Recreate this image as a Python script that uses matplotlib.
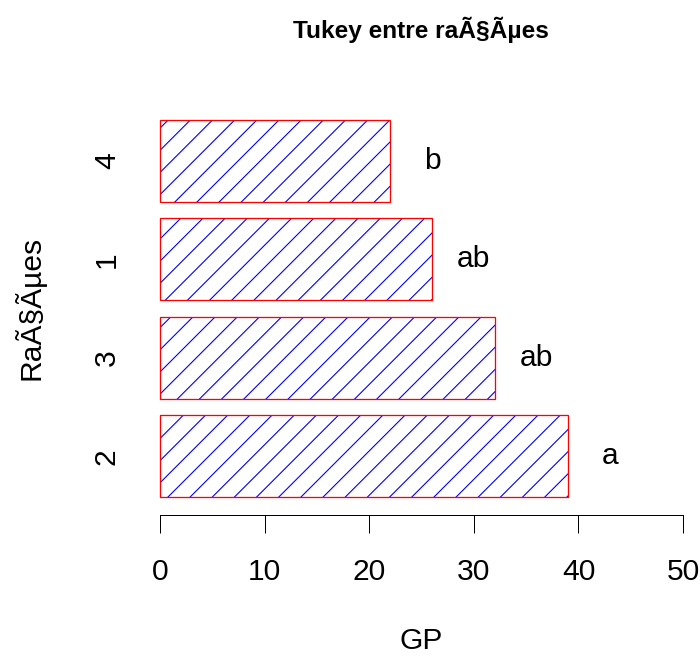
import matplotlib
matplotlib.use("Agg")
import matplotlib.pyplot as plt

# data (bottom to top, as drawn)
racoes = ["2", "3", "1", "4"]
gp = [39, 32, 26, 22]
letras = ["a", "ab", "ab", "b"]

DPI = 400 / 3
W, H = 700, 657
plt.rcParams["font.family"] = ["Liberation Sans", "DejaVu Sans"]
plt.rcParams["hatch.linewidth"] = 0.6

def pt(px):
    return px * 72 / DPI

fig = plt.figure(figsize=(W / DPI, H / DPI), dpi=DPI)
ax = fig.add_axes([139 / W, 1 - 515 / H, 565 / W, 410 / H])

pos = [0.7 + 1.2 * i for i in range(len(gp))]
ax.barh(pos, gp, height=1.0, color="none", edgecolor="blue", hatch="//", linewidth=0)
ax.barh(pos, gp, height=1.0, color="none", edgecolor="red", linewidth=pt(1.3))

for p, v, l in zip(pos, gp, letras):
    ax.text(v + 4, p, l, ha="center", va="center", fontsize=pt(30))

ax.set_xlim(-2, 52)
ax.set_ylim(-0.016, 4.984)
ax.set_xticks(range(0, 51, 10))
ax.set_yticks(pos)
ax.set_yticklabels(racoes, rotation=90, va="center")

for s in ["top", "right", "left"]:
    ax.spines[s].set_visible(False)
ax.spines["bottom"].set_bounds(0, 50)
ax.spines["bottom"].set_linewidth(pt(1))
ax.tick_params(axis="x", length=pt(18), width=pt(1), pad=pt(25), labelsize=pt(30))
ax.tick_params(axis="y", length=0, pad=pt(18), labelsize=pt(30))

ax.set_xlabel("GP", fontsize=pt(30), va="baseline")
ax.xaxis.set_label_coords(421 / W, 1 - 649 / H, transform=fig.transFigure)
ax.set_ylabel("RaÃ§Ãµes", fontsize=pt(30), va="center")
ax.yaxis.set_label_coords(30 / W, 1 - 308 / H, transform=fig.transFigure)
fig.text(421 / W, 1 - 30 / H, "Tukey entre raÃ§Ãµes", ha="center", va="center",
         fontsize=pt(24.5), fontweight="bold")

fig.savefig("out.png", dpi=DPI)
